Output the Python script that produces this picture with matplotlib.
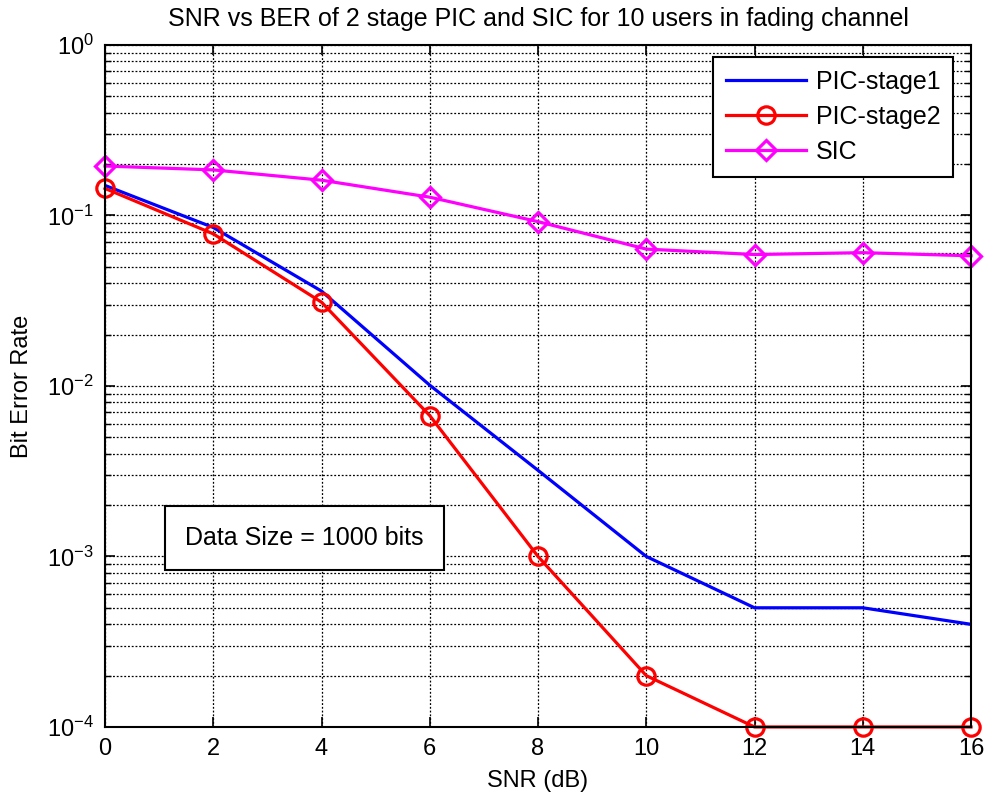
import matplotlib
matplotlib.use("Agg")
import matplotlib.pyplot as plt
from matplotlib.ticker import LogLocator, NullFormatter

plt.rcParams["font.family"] = ["Liberation Sans", "DejaVu Sans"]

snr = [0, 2, 4, 6, 8, 10, 12, 14, 16]
pic1 = [0.15, 0.085, 0.036, 0.0101, 0.0032, 0.001, 0.0005, 0.0005, 0.0004]
pic2 = [0.144, 0.078, 0.031, 0.0067, 0.001, 0.0002, 0.0001, 0.0001, 0.0001]
sic = [0.195, 0.185, 0.161, 0.128, 0.092, 0.0635, 0.059, 0.0605, 0.058]

fig = plt.figure(figsize=(9.88, 8), dpi=100)
ax = fig.add_axes([0.1063, 0.0913, 0.8765, 0.8525])

ax.semilogy(snr, pic1, color="blue", lw=2.3, label="PIC-stage1")
ax.semilogy(snr, pic2, color="red", lw=2.3, marker="o", ms=12.5, mfc="none",
            mew=2.3, label="PIC-stage2", clip_on=False)
ax.semilogy(snr, sic, color="magenta", lw=2.3, marker="D", ms=10.5, mfc="none",
            mew=2.3, label="SIC", clip_on=False)

ax.set_xlim(0, 16)
ax.set_ylim(1e-4, 1)
ax.set_xticks(snr)
ax.yaxis.set_major_locator(LogLocator(base=10, numticks=10))
ax.yaxis.set_minor_locator(LogLocator(base=10, subs=range(2, 10), numticks=20))
ax.yaxis.set_minor_formatter(NullFormatter())

ax.grid(True, which="major", color="black", ls=(0, (1.5, 1.5)), lw=0.9)
ax.grid(True, which="minor", axis="y", color="black", ls=(0, (1.5, 1.5)), lw=0.9)
ax.tick_params(which="both", direction="in", top=True, right=True, labelsize=17)
ax.tick_params(which="major", length=7, width=1.2, pad=8)
ax.tick_params(which="minor", length=4, width=1)
for s in ax.spines.values():
    s.set_linewidth(1.5)

ax.set_xlabel("SNR (dB)", fontsize=17, labelpad=7)
ax.set_ylabel("Bit Error Rate", fontsize=17, labelpad=10)
ax.set_title("SNR vs BER of 2 stage PIC and SIC for 10 users in fading channel",
             fontsize=18, pad=14)

leg = ax.legend(loc="upper right", bbox_to_anchor=(0.979, 0.982), fontsize=18,
                handlelength=3.2, handletextpad=0.4, fancybox=False,
                framealpha=1, edgecolor="black", borderpad=0.5,
                labelspacing=0.45, borderaxespad=0)
leg.get_frame().set_linewidth(1.5)

# annotation box: x in data units, y in axes fraction
ax.text(3.69, 0.277, "Data Size = 1000 bits", transform=ax.get_xaxis_transform(),
        fontsize=18, va="center", ha="center",
        bbox=dict(boxstyle="square,pad=0.8", fc="white", ec="black", lw=1.5))

fig.savefig("out.png", dpi=100)
